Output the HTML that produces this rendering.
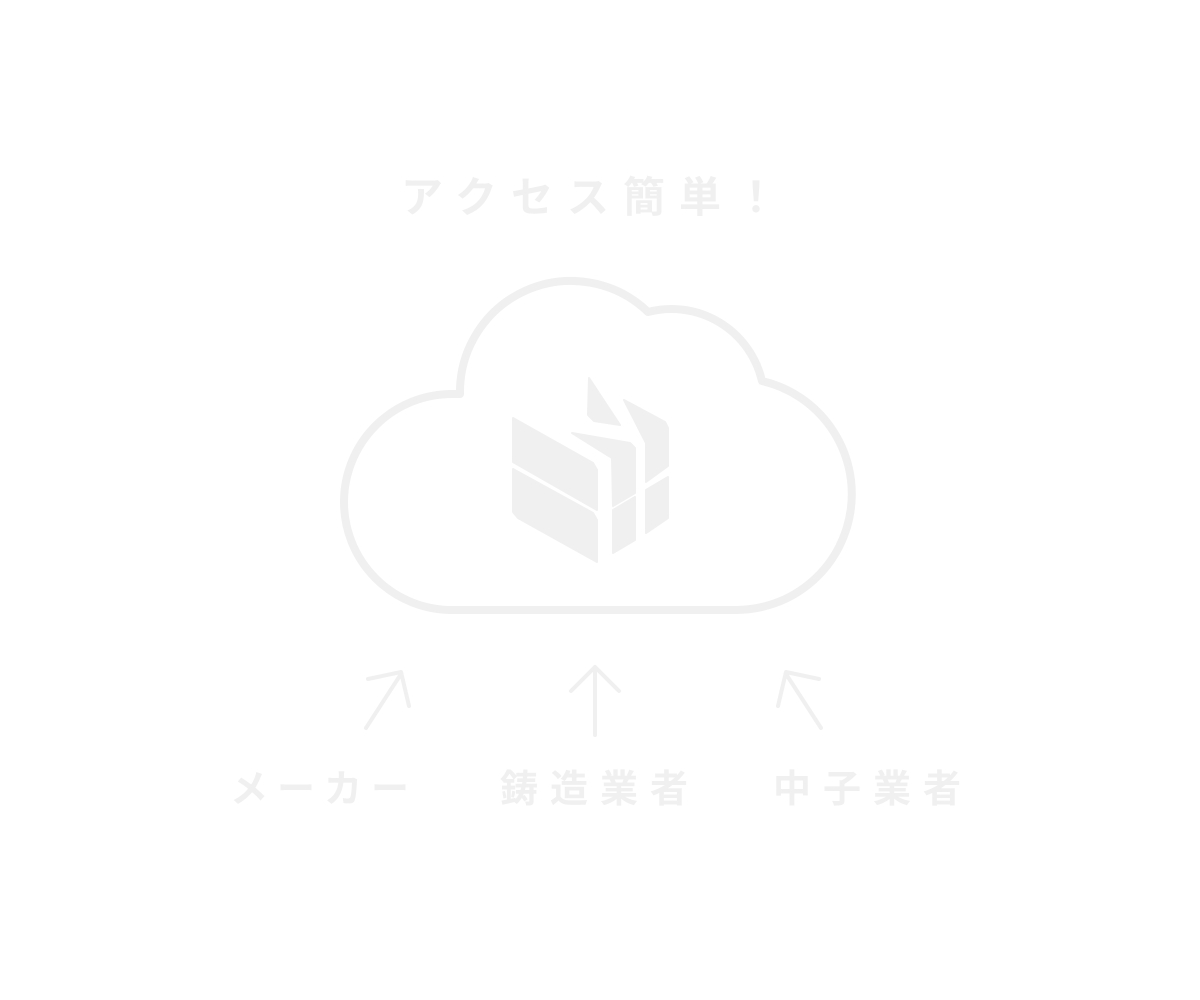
<!DOCTYPE html>
<html><head><meta charset="utf-8"><style>
html,body{margin:0;padding:0;background:#fff;width:1200px;height:1000px;overflow:hidden}
svg{display:block}
text{font-family:"Liberation Sans","Noto Sans CJK JP",sans-serif;font-weight:bold;fill:#f0f0f0}
</style></head><body>
<svg width="1200" height="1000" viewBox="0 0 1200 1000">
<text x="596" y="212" font-size="42" text-anchor="middle" letter-spacing="14">アクセス簡単！</text>
<path d="M452 610 A108 108 0 0 1 452 394 L460 394 A111 111 0 0 1 648 312 A93 93 0 0 1 762 381 A116 116 0 0 1 735 610 Z" fill="none" stroke="#f0f0f0" stroke-width="8" stroke-linejoin="round"/>
<g fill="#f0f0f0" stroke="#f0f0f0" stroke-width="2" stroke-linejoin="round">
<polygon points="589,378 620,425 594,421 588,415"/>
<polygon points="513,418 593,463 597,470 597,510 513,462"/>
<polygon points="513,469 593,513 597,520 597,562 518,518 513,512"/>
<polygon points="572,433 630,443 635,448 635,493 613,506 612,458"/>
<polygon points="624,400 665,422 668,428 668,466 646,482 646,443"/>
<polygon points="646,490 668,477 668,518 646,533"/>
<polygon points="613,510 635,497 635,540 613,553"/>
</g>
<g fill="none" stroke="#f0f0f0" stroke-width="4" stroke-linecap="round" stroke-linejoin="round">
<path d="M366 728 L401 674 M368 679 L401 672 L409 706"/>
<path d="M595 735 L595 668 M571 691 L595 667 L619 691"/>
<path d="M821 728 L786 674 M819 679 L786 672 L778 706"/>
</g>
<text x="324" y="802" font-size="38" text-anchor="middle" letter-spacing="9">メーカー</text>
<text x="600" y="802" font-size="38" text-anchor="middle" letter-spacing="12">鋳造業者</text>
<text x="873" y="802" font-size="38" text-anchor="middle" letter-spacing="12">中子業者</text>
</svg>
</body></html>
